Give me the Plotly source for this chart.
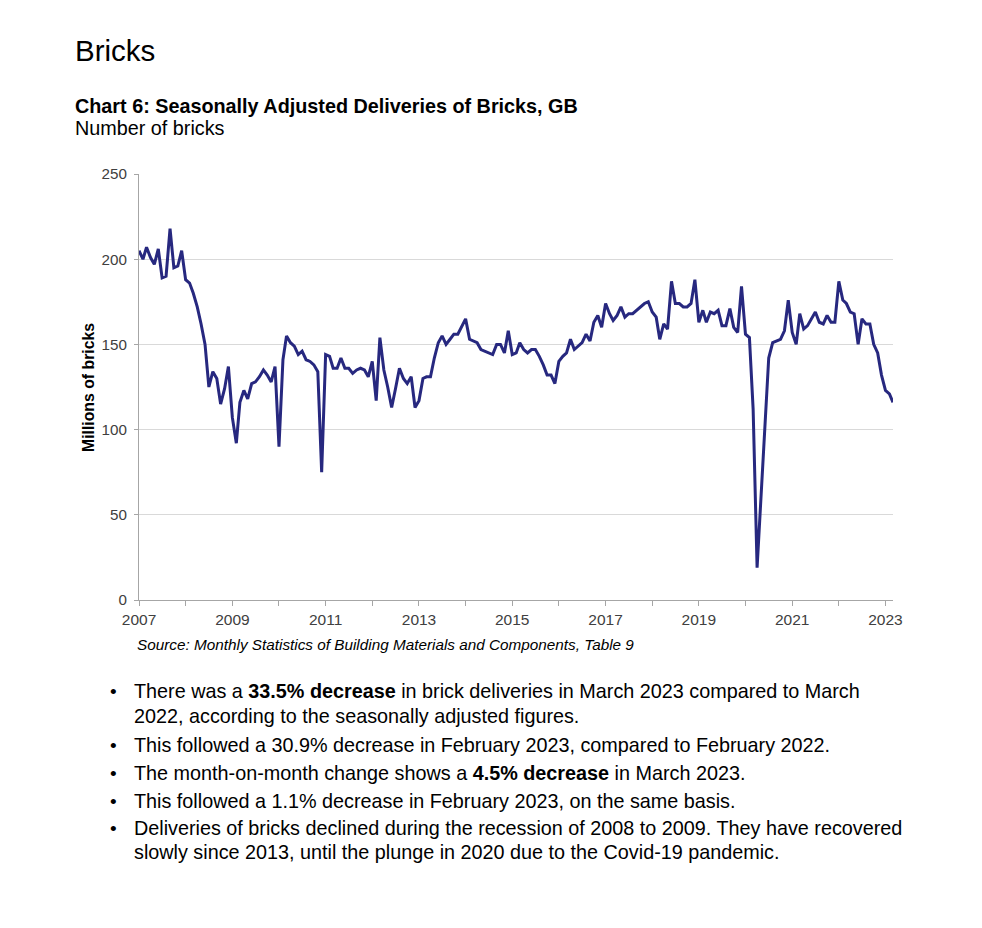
import plotly.graph_objects as go
import pandas as pd

# ---------------- data (millions of bricks, seasonally adjusted, monthly) ----------------
y2007 = [205, 200, 207, 201, 197, 206, 189, 190, 218, 195, 196, 205]
y2008 = [188, 186, 180, 172, 162, 150, 125, 134, 130, 115, 124, 137]
y2009 = [107, 92, 116, 123, 118, 127, 128, 131, 135, 132, 128, 137]
y2010 = [90, 141, 155, 151, 149, 144, 146, 141, 140, 138, 134, 75]
y2011 = [144, 143, 136, 136, 142, 136, 136, 133, 135, 136, 135, 131]
y2012 = [140, 117, 154, 135, 125, 113, 124, 136, 130, 127, 131, 113]
y2013 = [117, 130, 131, 131, 142, 151, 155, 150, 153, 156, 156, 160]
y2014 = [165, 153, 152, 151, 147, 146, 145, 144, 150, 150, 145, 158]
y2015 = [144, 145, 151, 147, 145, 147, 147, 143, 138, 132, 132, 127]
y2016 = [140, 143, 145, 153, 147, 149, 151, 156, 152, 163, 167, 160]
y2017 = [174, 168, 164, 167, 172, 166, 168, 168, 170, 172, 174, 175]
y2018 = [169, 166, 153, 162, 159, 187, 174, 174, 172, 172, 174, 188]
y2019 = [163, 170, 163, 169, 168, 170, 161, 161, 171, 160, 157, 184]
y2020 = [156, 154, 112, 19, 62, 105, 142, 151, 152, 153, 158, 176]
y2021 = [157, 150, 168, 159, 161, 165, 169, 163, 162, 167, 163, 163]
y2022 = [187, 176, 174, 169, 168, 150, 165, 162, 162, 150, 145, 132]
y2023 = [123, 121, 116]

values = (y2007 + y2008 + y2009 + y2010 + y2011 + y2012 + y2013 + y2014 + y2015
          + y2016 + y2017 + y2018 + y2019 + y2020 + y2021 + y2022 + y2023)
months = pd.date_range("2007-01-01", periods=len(values), freq="MS")

y_ticks = [0, 50, 100, 150, 200, 250]
x_tick_labels = ["2007", "2009", "2011", "2013", "2015", "2017", "2019", "2021", "2023"]

title_text = "Bricks"
chart_title = "Chart 6: Seasonally Adjusted Deliveries of Bricks, GB"
subtitle = "Number of bricks"
y_title = "Millions of bricks"
source = "Source: Monthly Statistics of Building Materials and Components, Table 9"
bullets = [
    ["There was a <b>33.5% decrease</b> in brick deliveries in March 2023 compared to March",
     "2022, according to the seasonally adjusted figures."],
    ["This followed a 30.9% decrease in February 2023, compared to February 2022."],
    ["The month-on-month change shows a <b>4.5% decrease</b> in March 2023."],
    ["This followed a 1.1% decrease in February 2023, on the same basis."],
    ["Deliveries of bricks declined during the recession of 2008 to 2009. They have recovered",
     "slowly since 2013, until the plunge in 2020 due to the Covid-19 pandemic."],
]
bullet_rows = [[691, 716], [745], [773], [801], [828, 852]]

# ---------------- layout geometry (page pixels) ----------------
OFF = 8  # default body margin of the html page
W, H = 982 - 2 * OFF, 928 - 2 * OFF
PL, PR, PT, PB = 139, 893, 174, 600  # plot area in page pixels

def px(x):
    return (x - PL) / (PR - PL)

def py(y):
    return (PB - y) / (PB - PT)

FONT = "Liberation Sans, Arial, sans-serif"
LINE = "#27287f"
GREY_TXT = "#404040"

fig = go.Figure()
fig.add_trace(go.Scatter(x=months, y=values, mode="lines",
                         line=dict(color=LINE, width=3), hoverinfo="x+y",
                         showlegend=False))

fig.update_layout(
    width=W, height=H,
    margin=dict(l=PL - OFF, r=W - (PR - OFF), t=PT - OFF, b=H - (PB - OFF), pad=0),
    paper_bgcolor="white", plot_bgcolor="white",
    font=dict(family=FONT, color="black"),
    showlegend=False,
)

fig.update_xaxes(
    type="date",
    range=["2007-01-01", "2023-03-01"],
    tickmode="array",
    tickvals=[f"{t}-01-01" for t in x_tick_labels],
    ticktext=x_tick_labels,
    ticks="outside", ticklen=5, tickcolor="#a6a6a6", tickwidth=1,
    minor=dict(tickmode="array",
               tickvals=[f"{y}-01-01" for y in range(2007, 2024)],
               ticks="outside", ticklen=5, tickcolor="#a6a6a6", showgrid=False),
    showline=True, linecolor="#a6a6a6", linewidth=1,
    showgrid=False, zeroline=False,
    tickfont=dict(size=15.5, color=GREY_TXT, family=FONT),
)
fig.update_yaxes(
    range=[0, 250],
    tickmode="array", tickvals=y_ticks, ticktext=[str(v) for v in y_ticks],
    ticks="outside", ticklen=4, tickcolor="#a6a6a6",
    showline=True, linecolor="#a6a6a6", linewidth=1,
    showgrid=True, gridcolor="#d9d9d9", gridwidth=1,
    zeroline=False,
    ticklabelstandoff=4,
    tickfont=dict(size=15.2, color=GREY_TXT, family=FONT),
)

ann = []
def text(x, y, s, size, anchor="left", **kw):
    ann.append(dict(x=px(x), y=py(y), xref="paper", yref="paper", text=s,
                    showarrow=False, xanchor=anchor, yanchor="middle",
                    font=dict(size=size, family=FONT, color=kw.pop("color", "black")),
                    **kw))

text(73, 50, title_text, 29.5)
text(73, 106, "<b>" + chart_title + "</b>", 19.8)
text(73, 128, subtitle, 19.8)
text(88, 388, "<b>" + y_title + "</b>", 15.8, anchor="center", textangle=-90)
text(135, 644, "<i>" + source + "</i>", 15.3)

for lines, rows in zip(bullets, bullet_rows):
    text(108, rows[0], "•", 19)
    for s, r in zip(lines, rows):
        text(132, r, s, 19.8)

fig.update_layout(annotations=ann)

fig.add_shape(type="line", xref="paper", yref="paper",
              x0=px(72), x1=px(910), y0=py(1), y1=py(1),
              line=dict(color="#a9bccc", width=1.5))

fig.write_html("out.html")
